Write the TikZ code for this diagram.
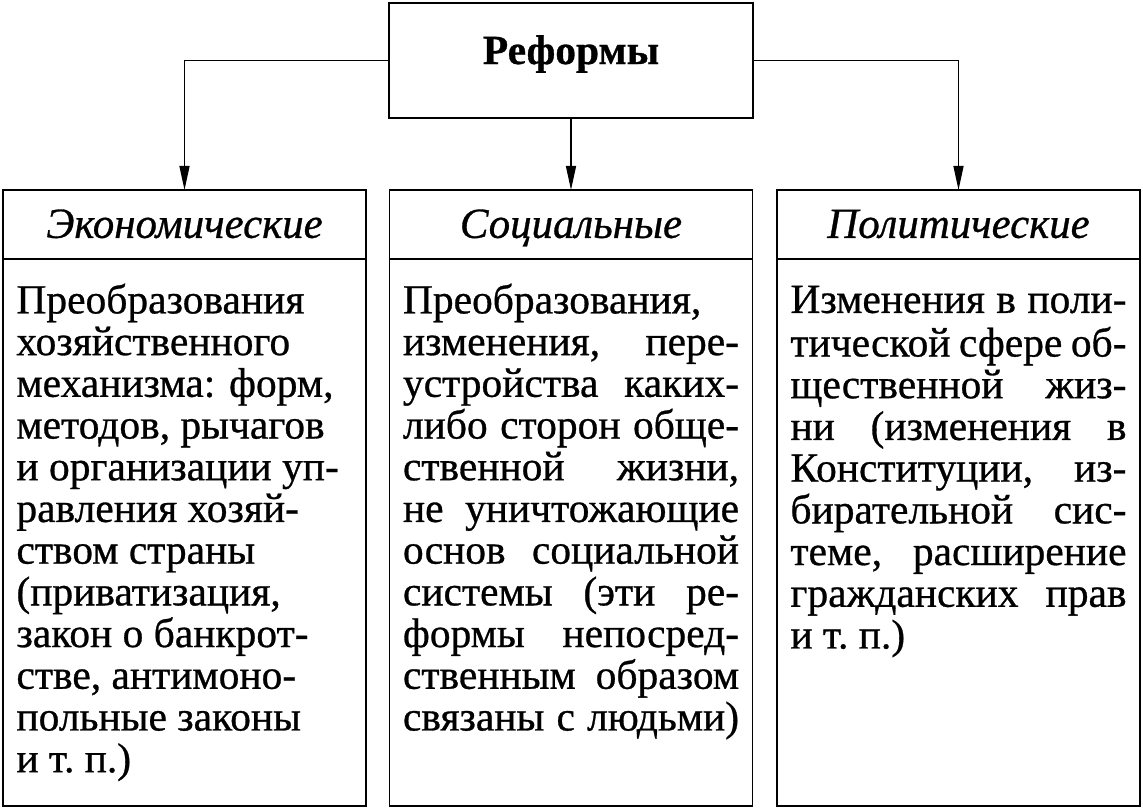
\documentclass[tikz,border=0pt]{standalone}
\usepackage{fontspec}
\setmainfont{Liberation Serif}[FakeBold=0.7]
\usepackage{tikz}
\usetikzlibrary{arrows.meta,positioning}

% one justified line of a column
\newcommand{\jl}[1]{\makebox[\linewidth][s]{#1}}
\newcommand{\coltext}[1]{\parbox[t][12.44cm][t]{8.4cm}{\strut#1}}

\begin{document}
\begin{tikzpicture}[
  x=0.025cm, y=-0.025cm,
  >={Triangle[length=0.6cm,width=0.25cm]},
  txt/.style={font=\fontsize{29.5}{29.66}\selectfont},
  topbox/.style={draw, line width=1.6pt, outer sep=0pt, minimum width=9.1cm, minimum height=2.875cm,
    text height=20pt, text depth=15pt, font=\bfseries\fontsize{29.5}{29.66}\selectfont},
  headbox/.style={draw, line width=1.2pt, outer sep=0pt, inner sep=0pt, minimum width=9.075cm,
    minimum height=1.725cm, text height=22pt, text depth=3pt, font=\itshape\fontsize{30.5}{29.66}\selectfont},
  bodybox/.style={draw, line width=1.2pt, outer sep=0pt, inner xsep=0.3375cm, inner ysep=0.6175cm, txt},
  link/.style={->, line width=1pt}
]
\useasboundingbox (0,0) rectangle (1143,809);

%========== top ==========
\node[topbox] (reform) at (571,60.5) {Реформы};

%========== column heads ==========
\node[headbox] (econH) at (184.5,224.5) {Экономические};
\node[headbox] (socH)  at (571,224.5)   {Социальные};
\node[headbox] (polH)  at (958.5,224.5) {Политические};

\draw[link] (reform.west) -| (econH.north);
\draw[link] (reform.south) -- (socH.north);
\draw[link] (reform.east) -| (polH.north);

%========== column bodies ==========
\node[bodybox, below=0pt of econH] (econB) {\coltext{%
  Преобразования\\
  хозяйственного\\
  механизма: форм,\\
  методов, рычагов\\
  и организации уп-\\
  равления хозяй-\\
  ством страны\\
  (приватизация,\\
  закон о банкрот-\\
  стве, антимоно-\\
  польные законы\\
  и т.~п.)}};

\node[bodybox, below=0pt of socH] (socB) {\coltext{%
  Преобразования,\\
  \jl{изменения, пере-}\\
  \jl{устройства каких-}\\
  \jl{либо сторон обще-}\\
  \jl{ственной жизни,}\\
  \jl{не уничтожающие}\\
  \jl{основ социальной}\\
  \jl{системы (эти ре-}\\
  \jl{формы непосред-}\\
  \jl{ственным образом}\\
  \jl{связаны с людьми)}}};

\node[bodybox, below=0pt of polH] (polB) {\coltext{%
  \jl{Изменения в поли-}\\
  \jl{тической сфере об-}\\
  \jl{щественной жиз-}\\
  \jl{ни (изменения в}\\
  \jl{Конституции, из-}\\
  \jl{бирательной сис-}\\
  \jl{теме, расширение}\\
  \jl{гражданских прав}\\
  и т.~п.)}};
\end{tikzpicture}
\end{document}
